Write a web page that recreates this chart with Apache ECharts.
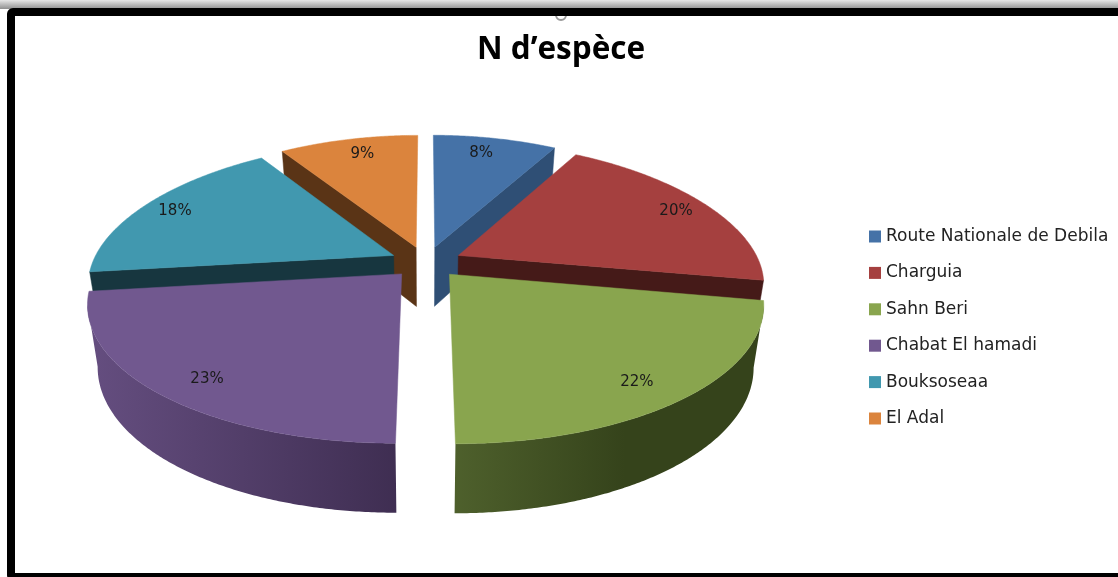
<!DOCTYPE html>
<html><head><meta charset="utf-8">
<style>html,body{margin:0;padding:0;background:#fff}#c{width:1118px;height:577px}</style>
<script src="https://cdn.jsdelivr.net/npm/echarts@6/dist/echarts.min.js"></script>
</head><body><div id="c"></div>
<script>
const categories = ['Route Nationale de Debila','Charguia','Sahn Beri','Chabat El hamadi','Bouksoseaa','El Adal'];
const percentages = [8,20,22,23,18,9];
const topColors = ['#4572A7','#A5403F','#89A54E','#71588F','#4198AF','#DB843D'];
const faceColors = ['#2F4F75','#451A18','#3A4720','#3F2E52','#17363F','#5A3416'];
const wallLeft = ['#4572A7','#6B2A29','#4E602C','#654E80','#2B6273','#8F5628'];
const wallRight = ['#2F4F75','#451A18','#35431B','#3F2E52','#17363F','#5A3416'];
const drawOrder = [5,0,1,4,3,2];

const CX = 426, CY = 262, R = 301, A = 130, K = 0.2, H = 60, BACK = 6.5, EXPLODE = 0.12, LABEL_R = 0.85, DEPTH_X = 0.03;
const LABEL_SHIFT = [[-6,0],[6,0],[-8,6],[7,6],[-7,0],[5,0]];
const total = percentages.reduce((a,b)=>a+b,0);

function project(X, Y, d) {
  const z = 1 + K * Y;
  return [CX + (1 - DEPTH_X * d) * R * X / z, CY - A * Y / z - (Y > 0 ? BACK * Y * Y : 0) + d * H / Math.pow(z, 0.6)];
}
function sliceItem(idx) {
  return function (params, api) {
    const before = percentages.slice(0, idx).reduce((a,b)=>a+b,0);
    const a0 = before / total * 2 * Math.PI;
    const a1 = (before + api.value(0)) / total * 2 * Math.PI;
    const mid = (a0 + a1) / 2;
    const ox = EXPLODE * Math.sin(mid), oy = EXPLODE * Math.cos(mid);
    const pt = (a, r, d) => project(ox + r * Math.sin(a), oy + r * Math.cos(a), d);
    const n = Math.max(12, Math.round((a1 - a0) * 120));
    const arcAngles = [];
    for (let i = 0; i <= n; i++) arcAngles.push(a0 + (a1 - a0) * i / n);
    const children = [];
    const area = poly => poly.reduce((s,p,i)=>{const q=poly[(i+1)%poly.length];return s+p[0]*q[1]-q[0]*p[1];},0);
    // cut faces, only when they clearly face the viewer
    [[a0,1],[a1,-1]].forEach(([a, sgn]) => {
      const poly = [pt(a,0,0), pt(a,1,0), pt(a,1,1), pt(a,0,1)];
      if (area(poly) * sgn < -3000) {
        children.push({type:'polygon',shape:{points:poly},style:{fill:faceColors[idx],stroke:faceColors[idx],lineWidth:0.5}});
      }
    });
    // outer wall: the arc part that runs right-to-left on screen
    const vis = [];
    for (let i = 0; i < n; i++) {
      if (pt(arcAngles[i+1],1,0)[0] < pt(arcAngles[i],1,0)[0]) {
        if (!vis.length) vis.push(arcAngles[i]);
        vis.push(arcAngles[i+1]);
      }
    }
    if (vis.length) {
      const poly = vis.map(a=>pt(a,1,0)).concat(vis.slice().reverse().map(a=>pt(a,1,1)));
      children.push({type:'polygon',shape:{points:poly},style:{
        fill:new echarts.graphic.LinearGradient(0,0,1,0,[
          {offset:0,color:wallLeft[idx]},{offset:idx===2?0.55:1,color:wallRight[idx]},{offset:1,color:wallRight[idx]}]),
        stroke:null}});
    }
    // top face
    const top = [pt(0,0,0)].concat(arcAngles.map(a=>pt(a,1,0)));
    children.push({type:'polygon',shape:{points:top},style:{fill:topColors[idx],stroke:topColors[idx],lineWidth:0.5}});
    const lp = pt(mid, LABEL_R, 0);
    children.push({type:'text',style:{x:lp[0]+LABEL_SHIFT[idx][0],y:lp[1]+LABEL_SHIFT[idx][1],text:api.value(0)+'%',align:'center',verticalAlign:'middle',
      fill:'#1a1a1a',font:'15px "DejaVu Sans"'}});
    return {type:'group',children};
  };
}

const series = categories.map((name, idx) => ({
  name, type:'custom', coordinateSystem:'none', clip:false,
  z: 2 + drawOrder.indexOf(idx),
  itemStyle:{color:topColors[idx]},
  data:[[percentages[idx]]],
  renderItem: sliceItem(idx)
}));

const chart = echarts.init(document.getElementById('c'), null, {renderer:'canvas'});
chart.setOption({
  animation:false,
  backgroundColor:'#fff',
  title:{text:'N d’espèce',left:556,top:29,textAlign:'center',
    textStyle:{fontFamily:'"Open Sans"',fontWeight:'bold',fontSize:31.5,color:'#000'}},
  legend:{orient:'vertical',left:869,top:228,padding:0,itemWidth:12,itemHeight:12,itemGap:19.4,
    icon:'rect',data:categories,selectedMode:false,
    textStyle:{fontFamily:'"DejaVu Sans"',fontSize:17,color:'#222',padding:[0,0,0,0]}},
  graphic:[
    {type:'rect',z:0,shape:{x:0,y:0,width:1118,height:9},
      style:{fill:new echarts.graphic.LinearGradient(0,0,0,1,[{offset:0,color:'#e6e6e6'},{offset:1,color:'#8f8f8f'}])}},
    {type:'circle',z:0,shape:{cx:561,cy:15,r:5},style:{fill:'none',stroke:'#999',lineWidth:2}},
    {type:'rect',z:1,shape:{x:11,y:12,width:1130,height:565,r:2},style:{fill:'none',stroke:'#000',lineWidth:8}}
  ],
  series
});
</script></body></html>
